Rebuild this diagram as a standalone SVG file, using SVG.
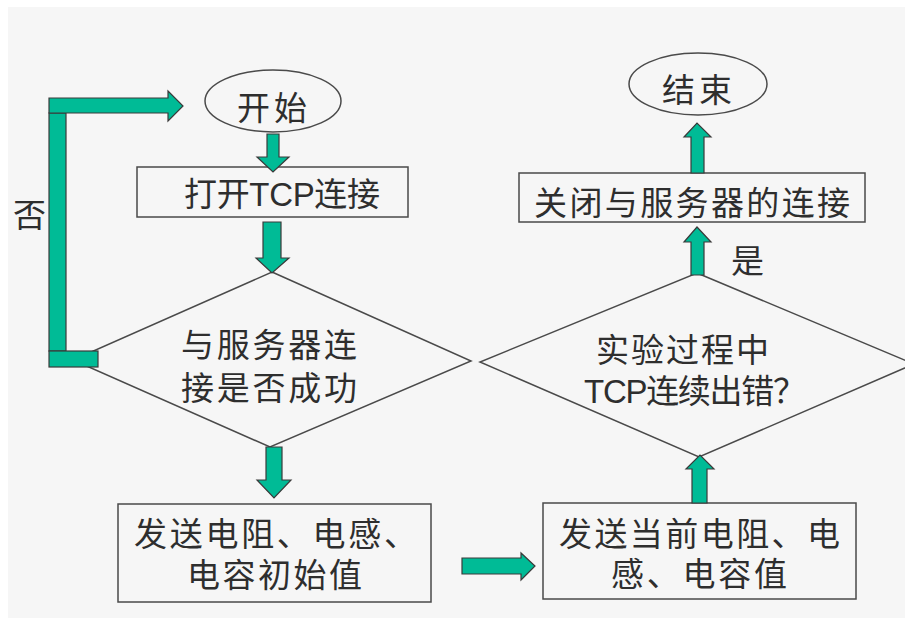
<svg xmlns="http://www.w3.org/2000/svg" width="905" height="618" viewBox="0 0 905 618">
<defs>
<style>
.bg{fill:#f6f6f6}
.shape{fill:#f6f6f6;stroke:#4a4a4a;stroke-width:1.5}
.arr{fill:#00bb96;stroke:#3a3a3a;stroke-width:1.2;stroke-linejoin:miter}
.t{font-family:"Liberation Sans","Noto Sans CJK SC",sans-serif;font-size:33px;fill:#2e2e2e}
</style>
</defs>
<rect x="0" y="0" width="905" height="618" fill="#ffffff"/>
<rect class="bg" x="8" y="7" width="897" height="611"/>

<g id="start">
<ellipse class="shape" cx="273" cy="101" rx="68" ry="31"/>
<text class="t" x="237" y="120" font-size="34" textLength="70" lengthAdjust="spacing">开始</text>
</g>

<g id="open-tcp">
<rect class="shape" x="137" y="167" width="271" height="50"/>
<text class="t" x="184" y="206" font-size="31" textLength="196" lengthAdjust="spacing">打开TCP连接</text>
</g>

<g id="check-connect">
<polygon class="shape" points="272,272 471,361 270,447 73,360"/>
<text class="t" x="181" y="357" textLength="176" lengthAdjust="spacing">与服务器连</text>
<text class="t" x="181" y="400" textLength="176" lengthAdjust="spacing">接是否成功</text>
</g>

<g id="send-init">
<rect class="shape" x="118" y="504" width="313" height="98"/>
<text class="t" x="134" y="546" textLength="283" lengthAdjust="spacing">发送电阻、电感、</text>
<text class="t" x="187" y="587" textLength="175" lengthAdjust="spacing">电容初始值</text>
</g>

<g id="send-current">
<rect class="shape" x="543" y="503" width="313" height="96"/>
<text class="t" x="559" y="546" textLength="281" lengthAdjust="spacing">发送当前电阻、电</text>
<text class="t" x="611" y="586" textLength="176" lengthAdjust="spacing">感、电容值</text>
</g>

<g id="check-error">
<polygon class="shape" points="697,273 914,364 699,457 480,362"/>
<text class="t" x="596" y="362" textLength="173" lengthAdjust="spacing">实验过程中</text>
<text class="t" x="584" y="403" textLength="222" lengthAdjust="spacing">TCP连续出错？</text>
</g>

<g id="close-conn">
<rect class="shape" x="519" y="173" width="346" height="49"/>
<text class="t" x="534" y="215" textLength="316" lengthAdjust="spacing">关闭与服务器的连接</text>
</g>

<g id="end">
<ellipse class="shape" cx="698" cy="84" rx="69" ry="31"/>
<text class="t" x="662" y="102" font-size="34" textLength="70" lengthAdjust="spacing">结束</text>
</g>

<g id="connectors">
<polygon class="arr" points="267,134 279,134 279,157 289,157 273,172 257,157 267,157"/>
<polygon class="arr" points="263,222 281,222 281,258 289,258 272,273 256,258 263,258"/>
<polygon class="arr" points="266,447 282,447 282,480 291,480 274,498 257,480 266,480"/>
<polygon class="arr" points="462,558 521,558 521,553 535,566 521,580 521,574 462,574"/>
<polygon class="arr" points="692,503 707,503 707,469 714,469 700,455 686,469 692,469"/>
<polygon class="arr" points="691,275 704,275 704,242 711,242 697,227 684,242 691,242"/>
<polygon class="arr" points="691,173 704,173 704,137 711,137 697,123 684,137 691,137"/>
<g id="loop-no">
<rect class="arr" x="49" y="113" width="17" height="238"/>
<rect class="arr" x="49" y="351" width="49" height="16"/>
<polygon class="arr" points="49,98 168,98 168,91 183,106 168,121 168,113 49,113"/>
<text class="t" x="13" y="227" font-size="33">否</text>
</g>
<text class="t" x="731" y="273" font-size="33">是</text>
</g>
</svg>
